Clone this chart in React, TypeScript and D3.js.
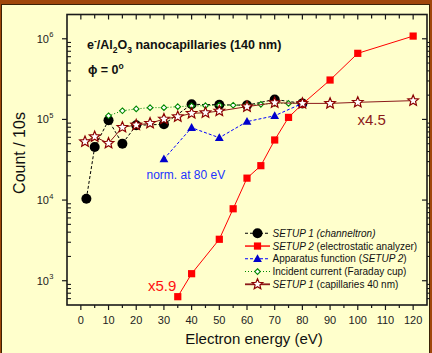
import React from "react";
import * as d3 from "d3";

// ---------- data ----------
const circleE = [2, 5, 10, 15, 20, 30, 40, 50, 60, 70, 80];
const circleV = [1.04e4, 4.55e4, 9.75e4, 5.0e4, 8.46e4, 8.7e4, 1.54e5, 1.52e5, 1.5e5, 1.77e5, 1.58e5];

const squareE = [35, 40, 50, 55, 60, 65, 70, 75, 80, 90, 100, 120];
const squareV = [634, 1222, 3265, 7800, 1.87e4, 2.67e4, 5.56e4, 1.06e5, 1.55e5, 3.08e5, 6.6e5, 1.08e6];

const triE = [30, 40, 50, 60, 70, 80];
const triV = [3.23e4, 7.9e4, 5.93e4, 9.4e4, 1.11e5, 1.58e5];

const diaE = [10, 15, 20, 25, 30, 35, 40, 45, 50, 55, 60, 65, 70, 75, 80];
const diaV = [1.11e5, 1.28e5, 1.35e5, 1.4e5, 1.4e5, 1.44e5, 1.47e5, 1.48e5, 1.5e5, 1.5e5, 1.52e5, 1.54e5, 1.58e5, 1.58e5, 1.6e5];

const starE = [1.5, 5, 10, 15, 20, 25, 30, 35, 40, 45, 50, 60, 70, 80, 90, 100, 120];
const starV = [5.3e4, 6.1e4, 5.06e4, 7.98e4, 8.53e4, 8.96e4, 1.01e5, 1.08e5, 1.19e5, 1.21e5, 1.27e5, 1.44e5, 1.61e5, 1.58e5, 1.58e5, 1.63e5, 1.71e5];

const xTickLabels = [0, 10, 20, 30, 40, 50, 60, 70, 80, 90, 100, 110, 120];
const xMinorTicks = [5, 15, 25, 35, 45, 55, 65, 75, 85, 95, 105, 115];
const yExponents = [3, 4, 5, 6];

const FONT = "'Liberation Sans', Arial, Helvetica, sans-serif";

const x = d3.scaleLinear().domain([-5, 125]).range([67, 427]);
const y = d3.scaleLog().domain([500, 2e6]).range([305, 14.5]);

const yMinor: number[] = [];
[100, 1000, 10000, 100000].forEach((dec) => {
  for (let k = 2; k <= 9; k++) {
    const v = dec * k;
    if (v > 500 && v < 2e6) yMinor.push(v);
  }
});

function starPath(r: number) {
  const ri = r * 0.45;
  const pts: [number, number][] = [];
  for (let i = 0; i < 10; i++) {
    const a = -Math.PI / 2 + (i * Math.PI) / 5;
    const rr = i % 2 === 0 ? r : ri;
    pts.push([rr * Math.cos(a), rr * Math.sin(a)]);
  }
  return "M" + pts.map((p) => p[0].toFixed(2) + "," + p[1].toFixed(2)).join("L") + "Z";
}

type Kind = "circle" | "square" | "tri" | "dia" | "star";

function Marker({ kind, cx, cy }: { kind: Kind; cx: number; cy: number }) {
  if (kind === "circle") return <circle cx={cx} cy={cy} r={5} fill="#000" />;
  if (kind === "square") return <rect x={cx - 3.6} y={cy - 3.6} width={7.2} height={7.2} fill="#FF0000" />;
  if (kind === "tri")
    return <path d={`M${cx},${cy - 4.6}L${cx + 4.4},${cy + 3.2}L${cx - 4.4},${cy + 3.2}Z`} fill="#0000CC" />;
  if (kind === "dia")
    return (
      <path
        d={`M${cx},${cy - 2.8}L${cx + 2.8},${cy}L${cx},${cy + 2.8}L${cx - 2.8},${cy}Z`}
        fill="#fff"
        stroke="#008800"
        strokeWidth={1.1}
      />
    );
  return <path d={starPath(5.6)} transform={`translate(${cx},${cy})`} fill="#fff" stroke="#8B0000" strokeWidth={1.2} />;
}

const series: { kind: Kind; E: number[]; V: number[]; color: string; dash?: string; width: number }[] = [
  { kind: "circle", E: circleE, V: circleV, color: "#000", dash: "3,2", width: 1 },
  { kind: "square", E: squareE, V: squareV, color: "#FF0000", width: 1 },
  { kind: "tri", E: triE, V: triV, color: "#0000FF", dash: "3,2", width: 1 },
  { kind: "dia", E: diaE, V: diaV, color: "#008800", dash: "1,2", width: 1 },
  { kind: "star", E: starE, V: starV, color: "#8B1A1A", width: 1 },
];

const legendRows: { kind: Kind; parts: { t: string; i?: boolean }[] }[] = [
  { kind: "circle", parts: [{ t: "SETUP 1 (channeltron)", i: true }] },
  { kind: "square", parts: [{ t: "SETUP 2", i: true }, { t: " (electrostatic analyzer)" }] },
  { kind: "tri", parts: [{ t: "Apparatus function (" }, { t: "SETUP 2", i: true }, { t: ")" }] },
  { kind: "dia", parts: [{ t: "Incident current (Faraday cup)" }] },
  { kind: "star", parts: [{ t: "SETUP 1", i: true }, { t: " (capillaries 40 nm)" }] },
];

export default function App() {
  const line = d3
    .line<[number, number]>()
    .x((d) => x(d[0]))
    .y((d) => y(d[1]));

  const axisColor = "#1a1a1a";
  const left = 67,
    right = 427,
    top = 14.5,
    bottom = 305;

  return (
    <svg
      width={432}
      height={353}
      style={{ position: "absolute", left: 0, top: 0, display: "block" }}
      fontFamily={FONT}
    >
      {/* frame */}
      <rect x={0} y={0} width={432} height={353} fill="#A0470A" />
      <rect x={1.5} y={4.5} width={428} height={360} fill="#FFFFCC" stroke="#3a2206" strokeWidth={1} />

      {/* series */}
      {series.map((s, si) => {
        const pts = s.E.map((e, i) => [e, s.V[i]] as [number, number]);
        return (
          <g key={si}>
            <path d={line(pts) || ""} fill="none" stroke={s.color} strokeWidth={s.width} strokeDasharray={s.dash} />
            {pts.map((p, i) => (
              <Marker key={i} kind={s.kind} cx={x(p[0])} cy={y(p[1])} />
            ))}
          </g>
        );
      })}

      {/* axes frame */}
      <rect x={left} y={top} width={right - left} height={bottom - top} fill="none" stroke={axisColor} strokeWidth={1.6} />

      {/* x ticks */}
      {xTickLabels.map((t) => (
        <g key={"xt" + t}>
          <line x1={x(t)} x2={x(t)} y1={bottom} y2={bottom + 5} stroke={axisColor} strokeWidth={1.2} />
          <line x1={x(t)} x2={x(t)} y1={top} y2={top + 5} stroke={axisColor} strokeWidth={1.2} />
          <text x={x(t)} y={324} fontSize={11} textAnchor="middle" fill="#222">
            {t}
          </text>
        </g>
      ))}
      {xMinorTicks.map((t) => (
        <g key={"xm" + t}>
          <line x1={x(t)} x2={x(t)} y1={bottom} y2={bottom + 3} stroke={axisColor} strokeWidth={1.2} />
          <line x1={x(t)} x2={x(t)} y1={top} y2={top + 4} stroke={axisColor} strokeWidth={1.2} />
        </g>
      ))}

      {/* y ticks */}
      {yExponents.map((ex) => {
        const yy = y(Math.pow(10, ex));
        return (
          <g key={"yt" + ex}>
            <line x1={left - 5} x2={left} y1={yy} y2={yy} stroke={axisColor} strokeWidth={1.2} />
            <line x1={right - 5} x2={right} y1={yy} y2={yy} stroke={axisColor} strokeWidth={1.2} />
            <text x={49} y={yy + 4} fontSize={11} textAnchor="end" fill="#222">
              10
            </text>
            <text x={49.3} y={yy - 1.5} fontSize={7.5} fill="#222">
              {ex}
            </text>
          </g>
        );
      })}
      {yMinor.map((v) => {
        const yy = y(v);
        return (
          <g key={"ym" + v}>
            <line x1={left} x2={left + 4} y1={yy} y2={yy} stroke={axisColor} strokeWidth={1.1} />
            <line x1={right} x2={right + 3} y1={yy} y2={yy} stroke={axisColor} strokeWidth={1.1} />
          </g>
        );
      })}

      {/* axis titles */}
      <text x={254} y={344} fontSize={15} textAnchor="middle" fill="#111">
        Electron energy (eV)
      </text>
      <text transform="translate(25,153) rotate(-90)" fontSize={16} textAnchor="middle" fill="#111">
        Count / 10s
      </text>

      {/* title */}
      <text x={87} y={49.3} fontSize={12.5} fontWeight="bold" fill="#111">
        e
        <tspan fontSize={8.5} dy={-5}>
          -
        </tspan>
        <tspan dy={5}>/Al</tspan>
        <tspan fontSize={8.5} dy={3.5}>
          2
        </tspan>
        <tspan dy={-3.5}>O</tspan>
        <tspan fontSize={8.5} dy={3.5}>
          3
        </tspan>
        <tspan dy={-3.5}> nanocapillaries (140 nm)</tspan>
      </text>
      <text x={88} y={74} fontSize={12.5} fontWeight="bold" fill="#111">
        {"\u03D5 = 0"}
        <tspan fontSize={8.5} dy={-5}>
          o
        </tspan>
      </text>

      {/* annotations */}
      <text x={146.5} y={179} fontSize={12} fill="#2233FF">
        norm. at 80 eV
      </text>
      <text x={357.5} y={125} fontSize={15} fill="#8B1A1A">
        x4.5
      </text>
      <text x={148} y={291} fontSize={15} fill="#FF1010">
        x5.9
      </text>

      {/* legend */}
      {legendRows.map((row, i) => {
        const yy = 233.3 + i * 12.75;
        const s = series.find((q) => q.kind === row.kind)!;
        return (
          <g key={"lg" + i}>
            <line
              x1={245}
              x2={270}
              y1={yy}
              y2={yy}
              stroke={s.color}
              strokeWidth={row.kind === "star" ? 1.8 : row.kind === "square" ? 1.4 : 1.1}
              strokeDasharray={s.dash}
            />
            <Marker kind={row.kind} cx={257.5} cy={yy} />
            <text x={272.5} y={yy + 3.6} fontSize={10} fill="#111">
              {row.parts.map((p, j) => (
                <tspan key={j} fontStyle={p.i ? "italic" : "normal"}>
                  {p.t}
                </tspan>
              ))}
            </text>
          </g>
        );
      })}
    </svg>
  );
}
